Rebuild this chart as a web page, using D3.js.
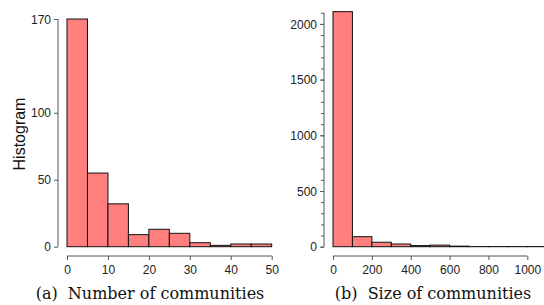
<!DOCTYPE html>
<html><head><meta charset="utf-8">
<script src="https://d3js.org/d3.v7.min.js"></script>
<style>
	body { margin: 0; background: #fff }
	svg { display: block; font-family: 'Liberation Sans', Arial, sans-serif }
	.axis path, .axis line { stroke: #555; stroke-width: 1 }
	.axis text { font-size: 12px; fill: #222 }
	.caption { font-family: 'DejaVu Serif', 'Liberation Serif', serif; font-size: 16px; fill: #111 }
</style>
</head><body><svg></svg>
<script>
'use strict'

// (a) number of communities
let edges_a = [0, 5, 10, 15, 20, 25, 30, 35, 40, 45, 50],
	counts_a = [170, 55, 32, 9, 13, 10, 3, 1, 2, 2],
	xticks_a = [0, 10, 20, 30, 40, 50],
	yticks_a = [0, 50, 100, 170]

// (b) size of communities
let edges_b = [0, 100, 200, 300, 400, 500, 600, 700, 800, 900, 1000, 1100],
	counts_b = [2110, 90, 40, 24, 10, 14, 5, 1, 1, 1, 1],
	xticks_b = [0, 200, 400, 600, 800, 1000],
	yticks_b = [0, 500, 1000, 1500, 2000],
	yminor_b = d3.range(0, 2200, 100)

let svg = d3.select('svg').attr('width', 544).attr('height', 305),
	fmt = d3.format('d')

let panel = (o) => {
	let x = d3.scaleLinear().domain(o.xdom).range(o.xr),
		y = d3.scaleLinear().domain(o.ydom).range(o.yr),
		g = svg.append('g'),
		bars = d3.range(o.counts.length).map(i => ({x0: o.edges[i], x1: o.edges[i+1], n: o.counts[i]}))

	g.append('g').selectAll('rect').data(bars).join('rect')
		.attr('x', d => x(d.x0)).attr('width', d => x(d.x1) - x(d.x0))
		.attr('y', d => y(d.n)).attr('height', d => y(0) - y(d.n))
		.attr('fill', '#ff7f7f').attr('stroke', '#111').attr('stroke-width', 1)

	g.append('g').attr('class', 'axis').attr('transform', `translate(0 ${o.xaxis_y})`)
		.call(d3.axisBottom(x).tickValues(o.xticks).tickFormat(fmt).tickSize(4).tickSizeOuter(0))
		.call(s => s.select('.domain').attr('d', `M${x(o.xticks[0])},0H${x(o.xticks.at(-1))}`))
		.call(s => s.selectAll('text').attr('dy', '0.95em'))

	g.append('g').attr('class', 'axis').attr('transform', `translate(${o.yaxis_x} 0)`)
		.call(d3.axisLeft(y).tickValues(o.yticks).tickFormat(fmt).tickSize(4).tickSizeOuter(0))
		.call(s => s.select('.domain').attr('d', `M0,${y(o.ytop)}V${y(0)}`))
		.call(s => s.selectAll('text').attr('dy', '0.35em'))

	if (o.yminor) g.append('g').selectAll('line').data(o.yminor).join('line')
		.attr('x1', o.yaxis_x - 3).attr('x2', o.yaxis_x)
		.attr('y1', d => y(d) + 0.5).attr('y2', d => y(d) + 0.5)
		.attr('stroke', '#555')

	g.append('text').attr('class', 'caption')
		.attr('x', o.cap_x).attr('y', 299).attr('text-anchor', 'middle')
		.attr('xml:space', 'preserve').text(o.caption)
	return g
}

panel({
	edges: edges_a, counts: counts_a, xticks: xticks_a, yticks: yticks_a,
	xdom: [0, 50], xr: [67, 271.7], ydom: [0, 170], yr: [246.7, 19], ytop: 170,
	xaxis_y: 256, yaxis_x: 58, cap_x: 150, caption: '(a)  Number of communities' })

panel({
	edges: edges_b, counts: counts_b, xticks: xticks_b, yticks: yticks_b, yminor: yminor_b,
	xdom: [0, 1000], xr: [333, 527.3], ydom: [0, 2000], yr: [246.7, 23.9], ytop: 2100,
	xaxis_y: 256, yaxis_x: 324, cap_x: 433, caption: '(b)  Size of communities' })

svg.append('text')
	.attr('transform', 'translate(25 134) rotate(-90)')
	.attr('text-anchor', 'middle').attr('font-size', 16).attr('fill', '#111')
	.text('Histogram')
</script>
</body></html>
